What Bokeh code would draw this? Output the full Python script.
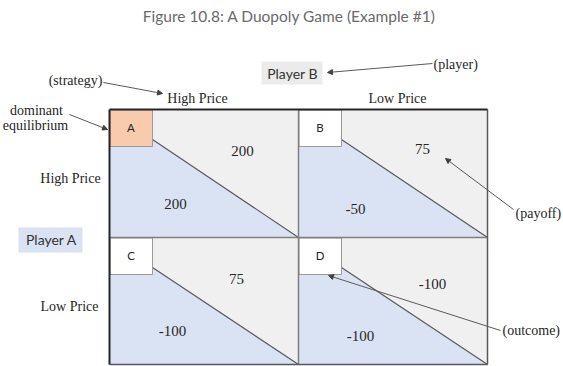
from bokeh.plotting import figure
from bokeh.models import Range1d, Arrow, NormalHead
from bokeh.core.properties import value
from bokeh.embed import file_html
from bokeh.resources import INLINE

# ---------------- data ----------------
title = "Figure 10.8: A Duopoly Game (Example #1)"
players = ["Player A", "Player B"]
strategies = ["High Price", "Low Price"]
outcomes = ["A", "B", "C", "D"]
payoff_upper = [200, 75, 75, -100]
payoff_lower = [200, -50, -100, -100]
is_equilibrium = [True, False, False, False]
notes = ["(strategy)", "(player)", "dominant", "equilibrium", "(payoff)", "(outcome)"]

# ---------------- layout (page pixel coordinates) ----------------
W, H = 563, 366
col_edges = [109, 298, 487]
row_edges = [109, 237, 364]
box_w, box_h, diag_y = 43, 37, 30
upper_off = [(133, 41), (124, 39), (127, 41), (134, 46)]
lower_off = [(66, 94), (57, 99), (63, 93), (62, 98)]

SERIF = value("Liberation Serif")
SANS = value("Lato")
BLUE = "#dae3f3"
GREY = "#f0f0f0"
ORANGE = "#f8cbad"
DARK = "#404040"

p = figure(width=W, height=H, x_range=Range1d(0, W), y_range=Range1d(H, 0),
           output_backend="svg", toolbar_location=None, min_border=0)
p.axis.visible = False
p.grid.visible = False
p.outline_line_color = None
p.background_fill_color = "white"
p.border_fill_color = "white"

# title
p.text(x=[289], y=[15], text=[title], text_font=SANS, text_font_size="15.5px",
       text_color="#6a6a6a", text_align="center", text_baseline="middle")

# cells
for i, lab in enumerate(outcomes):
    r, c = divmod(i, 2)
    x0, x1 = col_edges[c], col_edges[c + 1]
    y0, y1 = row_edges[r], row_edges[r + 1]
    p.quad(left=[x0], right=[x1], top=[y0], bottom=[y1], fill_color=GREY, line_color=None)
    p.patch(x=[x0, x0 + box_w, x1, x0], y=[y0 + diag_y, y0 + diag_y, y1, y1],
            fill_color=BLUE, line_color=None)
    p.segment(x0=[x0 + box_w], y0=[y0 + diag_y], x1=[x1], y1=[y1],
              line_color="#595959", line_width=1.2)
    p.quad(left=[x0 + 0.5], right=[x0 + box_w], top=[y0 + 0.5], bottom=[y0 + box_h],
           fill_color=ORANGE if is_equilibrium[i] else "white", line_color="#9a9a9a", line_width=1)
    p.text(x=[x0 + box_w / 2], y=[y0 + box_h / 2 - 1], text=[lab], text_font=SANS,
           text_font_size="11.5px", text_color="#262626",
           text_align="center", text_baseline="middle")
    ux, uy = upper_off[i]
    lx, ly = lower_off[i]
    p.text(x=[x0 + ux], y=[y0 + uy], text=[str(payoff_upper[i])], text_font=SERIF,
           text_font_size="15px", text_color="#262626", text_align="center", text_baseline="middle")
    p.text(x=[x0 + lx], y=[y0 + ly], text=[str(payoff_lower[i])], text_font=SERIF,
           text_font_size="15px", text_color="#262626", text_align="center", text_baseline="middle")

# grid lines
p.segment(x0=[col_edges[1], col_edges[0]], y0=[row_edges[0], row_edges[1]],
          x1=[col_edges[1], col_edges[2]], y1=[row_edges[2], row_edges[1]],
          line_color="#7f7f7f", line_width=1.5)
p.segment(x0=[col_edges[2], col_edges[0]], y0=[row_edges[0], row_edges[2]],
          x1=[col_edges[2], col_edges[2]], y1=[row_edges[2], row_edges[2]],
          line_color="#595959", line_width=1.5)
p.segment(x0=[col_edges[0], col_edges[0]], y0=[row_edges[0], row_edges[0]],
          x1=[col_edges[0], col_edges[2]], y1=[row_edges[2], row_edges[0]],
          line_color="#262626", line_width=2)

# strategy labels
p.text(x=[197, 397], y=[98, 98], text=strategies, text_font=SERIF, text_font_size="14px",
       text_color="#262626", text_align="center", text_baseline="middle")
p.text(x=[70, 69], y=[178, 306], text=strategies, text_font=SERIF, text_font_size="14px",
       text_color="#262626", text_align="center", text_baseline="middle")

# player boxes
p.quad(left=[18], right=[82], top=[227], bottom=[252], fill_color=BLUE, line_color=None)
p.quad(left=[261], right=[322], top=[61], bottom=[84], fill_color="#ebebeb", line_color=None)
p.text(x=[51, 292], y=[239, 73], text=players, text_font=SANS, text_font_size="14px",
       text_color="#333333", text_align="center", text_baseline="middle")

# annotation texts
p.text(x=[75, 433, 36, 35, 515, 502], y=[80, 64, 110, 125, 213, 330], text=notes,
       text_font=SERIF, text_font_size="14px", text_color="#262626",
       text_align=["center", "left", "center", "center", "left", "left"], text_baseline="middle")

# arrows
arrows = [((103, 82), (162, 93)), ((432, 63), (327, 72)), ((69, 114), (107, 129)),
          ((513, 209), (445, 158)), ((500, 330), (328, 275))]
for (xs, ys), (xe, ye) in arrows:
    p.add_layout(Arrow(end=NormalHead(size=5, fill_color=DARK, line_color=DARK),
                       x_start=xs, y_start=ys, x_end=xe, y_end=ye,
                       line_color="#595959", line_width=1))

open("out.html", "w").write(file_html(p, INLINE))
